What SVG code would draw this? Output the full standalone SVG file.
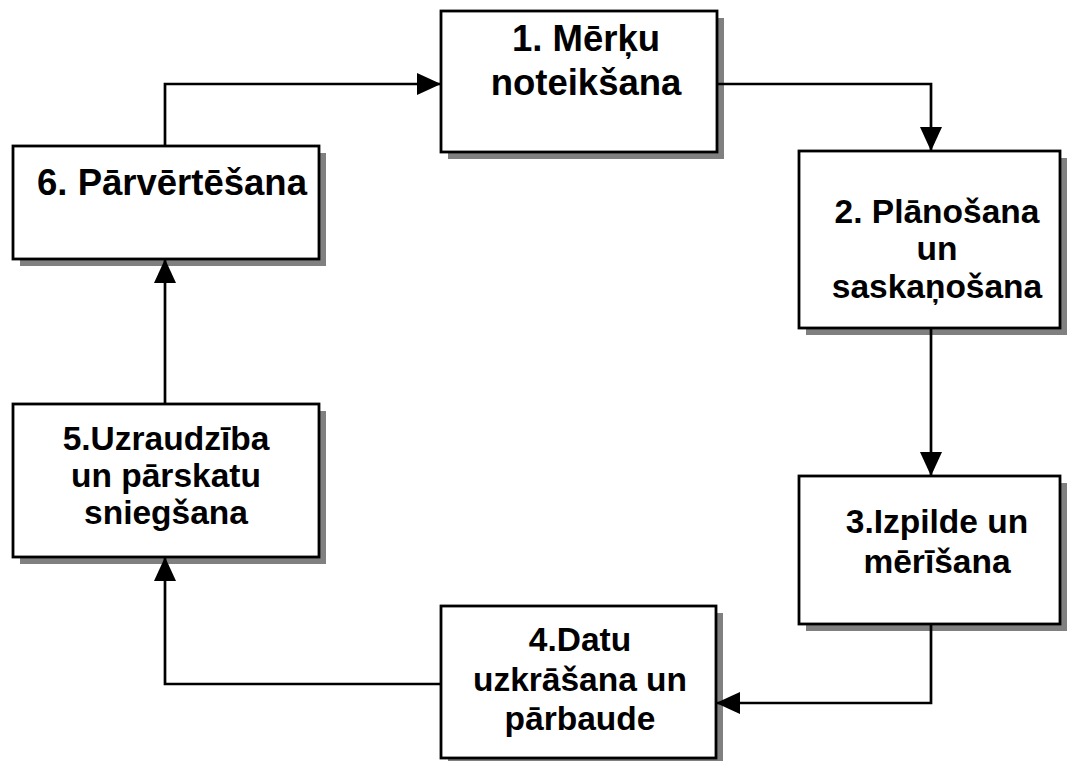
<svg xmlns="http://www.w3.org/2000/svg" width="1068" height="761" viewBox="0 0 1068 761">
<defs>
<style>
.shadow{fill:#808080;stroke:none}
.box{fill:#ffffff;stroke:#000000;stroke-width:2.8}
.lbl{font-family:"Liberation Sans",Arial,sans-serif;font-weight:bold;font-size:33.5px;fill:#000000;text-anchor:middle}
.big{font-size:36.5px}
.conn{fill:none;stroke:#000000;stroke-width:2.7}
</style>
<marker id="arr" markerUnits="userSpaceOnUse" markerWidth="25" markerHeight="23" viewBox="0 0 25 23" refX="24" refY="11" orient="auto">
<path d="M0,0 L24,11 L0,22 Z" fill="#000000"/>
</marker>
</defs>
<rect width="1068" height="761" fill="#ffffff"/>
<g id="node1">
<rect class="shadow" x="448" y="18" width="276" height="141"/>
<rect class="box" x="441" y="11" width="276" height="141"/>
<text class="lbl big" x="586" y="51">1. Mērķu</text>
<text class="lbl big" x="586" y="95">noteikšana</text>
</g>
<g id="node2">
<rect class="shadow" x="806" y="158" width="261" height="177"/>
<rect class="box" x="799" y="151" width="261" height="177"/>
<text class="lbl" x="937" y="223">2. Plānošana</text>
<text class="lbl" x="937" y="260">un</text>
<text class="lbl" x="937" y="298">saskaņošana</text>
</g>
<g id="node3">
<rect class="shadow" x="806" y="483" width="261" height="148"/>
<rect class="box" x="799" y="476" width="261" height="148"/>
<text class="lbl" x="937" y="533">3.Izpilde un</text>
<text class="lbl" x="937" y="573">mērīšana</text>
</g>
<g id="node4">
<rect class="shadow" x="448" y="613" width="275" height="152"/>
<rect class="box" x="441" y="606" width="275" height="152"/>
<text class="lbl" x="580" y="651">4.Datu</text>
<text class="lbl" x="580" y="691">uzkrāšana un</text>
<text class="lbl" x="580" y="730">pārbaude</text>
</g>
<g id="node5">
<rect class="shadow" x="20" y="411" width="306" height="153"/>
<rect class="box" x="13" y="404" width="306" height="153"/>
<text class="lbl" x="166" y="450">5.Uzraudzība</text>
<text class="lbl" x="166" y="487">un pārskatu</text>
<text class="lbl" x="166" y="524">sniegšana</text>
</g>
<g id="node6">
<rect class="shadow" x="20" y="153" width="306" height="113"/>
<rect class="box" x="13" y="146" width="306" height="113"/>
<text class="lbl big" x="172" y="195">6. Pārvērtēšana</text>
</g>
<g id="connectors">
<path class="conn" d="M165,146 V84 H441" marker-end="url(#arr)"/>
<path class="conn" d="M717,84 H931 V151" marker-end="url(#arr)"/>
<path class="conn" d="M931,328 V476" marker-end="url(#arr)"/>
<path class="conn" d="M931,624 V703 H716" marker-end="url(#arr)"/>
<path class="conn" d="M441,684 H165 V557" marker-end="url(#arr)"/>
<path class="conn" d="M165,404 V259" marker-end="url(#arr)"/>
</g>
</svg>
